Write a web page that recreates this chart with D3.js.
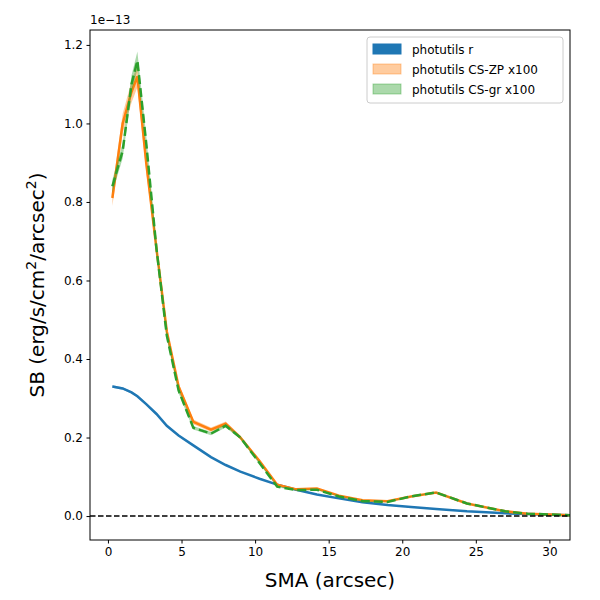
<!DOCTYPE html>
<html><head><meta charset="utf-8">
<script src="https://cdn.jsdelivr.net/npm/d3@7"></script>
<style>body{margin:0;background:#fff}text{font-family:"DejaVu Sans",sans-serif}</style>
</head><body><svg id="c" width="600" height="600"></svg>
<script>
// values in units of 1e-13
var xs = [0.3,1.0,1.6,2.0,2.6,3.3,4.0,4.8,5.8,7.0,8.0,9.0,10.3,11.5,12.8,14.2,15.7,17.3,19.0,20.6,22.3,24.4,27.0,28.5,30.0,31.4];
var csZP = [0.81,1.0,1.08,1.12,0.9,0.68,0.47,0.33,0.24,0.22,0.235,0.20,0.14,0.08,0.068,0.07,0.052,0.04,0.038,0.05,0.06,0.032,0.012,0.006,0.004,0.002];
var csGr = [0.84,0.93,1.1,1.16,0.95,0.68,0.46,0.32,0.225,0.21,0.23,0.20,0.135,0.075,0.066,0.067,0.05,0.038,0.036,0.05,0.06,0.032,0.012,0.006,0.004,0.002];
var rBand = [0.33,0.325,0.315,0.305,0.285,0.26,0.23,0.205,0.18,0.15,0.13,0.113,0.095,0.08,0.067,0.055,0.045,0.035,0.028,0.023,0.018,0.012,0.007,0.005,0.003,0.002];
var xTicks = [0,5,10,15,20,25,30];
var yTicks = [0,0.2,0.4,0.6,0.8,1.0,1.2];
var names = ["photutils r","photutils CS-ZP x100","photutils CS-gr x100"];
var colors = ["#1f77b4","#ff7f0e","#2ca02c"];

var svg = d3.select("#c");
var L=90,R=570,T=30,B=540;
var x = d3.scaleLinear().domain([-1.22,31.4]).range([L,R]);
var y = d3.scaleLinear().domain([-0.061,1.238]).range([B,T]);
var g = svg.append("g");
g.append("defs").append("clipPath").attr("id","cl").append("rect")
  .attr("x",L).attr("y",T).attr("width",R-L).attr("height",B-T);
var p = g.append("g").attr("clip-path","url(#cl)");

function band(vals,col,w){
  p.append("path").datum(xs)
    .attr("d",d3.area().x(function(d){return x(d);})
      .y0(function(d,i){return y(vals[i]*(1-w));})
      .y1(function(d,i){return y(vals[i]*(1+w));}))
    .attr("fill",col).attr("fill-opacity",0.4);
}
function line(vals,col,dash){
  p.append("path").datum(xs)
    .attr("d",d3.line().x(function(d){return x(d);}).y(function(d,i){return y(vals[i]);}))
    .attr("fill","none").attr("stroke",col).attr("stroke-width",2.5)
    .attr("stroke-dasharray",dash||null);
}
band(rBand,colors[0],0.01);
line(rBand,colors[0]);
band(csZP,colors[1],0.025);
line(csZP,colors[1]);
band(csGr,colors[2],0.02);
line(csGr,colors[2],"9,4");
p.append("line").attr("x1",L).attr("x2",R).attr("y1",y(0)).attr("y2",y(0))
  .attr("stroke","#000").attr("stroke-width",1.5).attr("stroke-dasharray","5.5,2.5");

var xa = g.append("g").attr("transform","translate(0,"+B+")")
  .call(d3.axisBottom(x).tickValues(xTicks).tickSize(3.5).tickPadding(3.5));
var ya = g.append("g").attr("transform","translate("+L+",0)")
  .call(d3.axisLeft(y).tickValues(yTicks).tickSize(3.5).tickPadding(3.5).tickFormat(d3.format(".1f")));
[xa,ya].forEach(function(a){
  a.selectAll("text").attr("font-size",12).attr("fill","#000");
  a.select(".domain").remove();
});
g.append("rect").attr("x",L).attr("y",T).attr("width",R-L).attr("height",B-T)
  .attr("fill","none").attr("stroke","#000");
g.append("text").attr("x",L).attr("y",T-6).attr("font-size",12).text("1e\u221213");
g.append("text").attr("x",(L+R)/2).attr("y",587).attr("text-anchor","middle")
  .attr("font-size",20).text("SMA (arcsec)");
var yl = g.append("text").attr("transform","translate(44,"+((T+B)/2)+") rotate(-90)")
  .attr("text-anchor","middle").attr("font-size",20);
yl.append("tspan").text("SB (erg/s/cm");
yl.append("tspan").attr("font-size",14).attr("dy",-8).text("2");
yl.append("tspan").attr("dy",8).text("/arcsec");
yl.append("tspan").attr("font-size",14).attr("dy",-8).text("2");
yl.append("tspan").attr("dy",8).text(")");

var lg = g.append("g").attr("transform","translate(367,37)");
lg.append("rect").attr("width",196).attr("height",66).attr("rx",3)
  .attr("fill","#fff").attr("fill-opacity",0.8).attr("stroke","#ccc");
names.forEach(function(n,i){
  var yy = 7+i*20;
  lg.append("rect").attr("x",6).attr("y",yy).attr("width",28).attr("height",10)
    .attr("fill",colors[i]).attr("fill-opacity",i==0?1:0.4)
    .attr("stroke",colors[i]).attr("stroke-opacity",i==0?1:0.4);
  lg.append("text").attr("x",45).attr("y",yy+10).attr("font-size",12).text(n);
});
</script></body></html>
